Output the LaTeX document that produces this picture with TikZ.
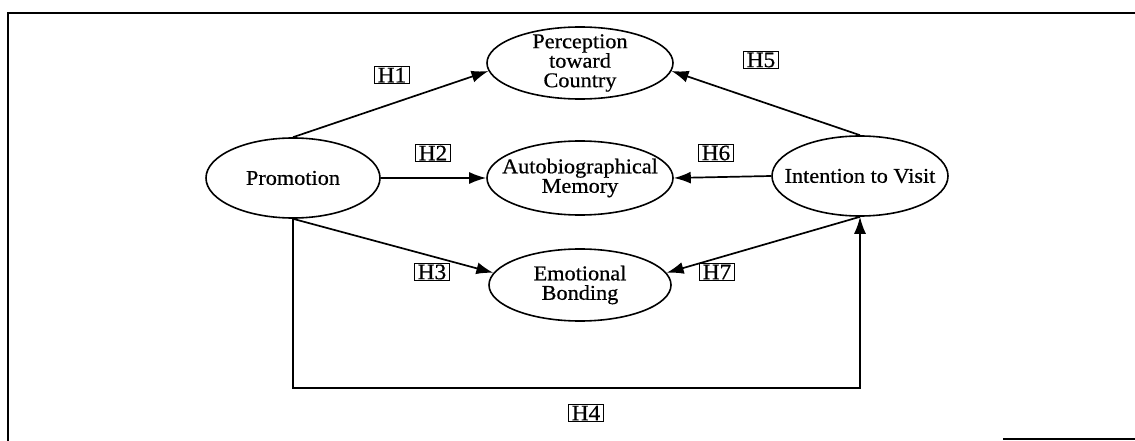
\documentclass[tikz,border=0pt]{standalone}
\usepackage{fontspec}
\setmainfont{Liberation Serif}[FakeStretch=1.06,FakeBold=0.6]
\usetikzlibrary{shapes.geometric,arrows.meta}
\begin{document}
\begin{tikzpicture}[x=1pt,y=-1pt,
  ell/.style={draw,ellipse,line width=1.6pt,inner sep=0pt},
  etext/.style={align=center,font=\fontsize{21}{19.5}\selectfont},
  hyp/.style={draw,line width=1.1pt,inner xsep=3.5pt,inner ysep=1.5pt,font=\fontsize{22}{22}\selectfont},
  conn/.style={line width=1.7pt,-{Latex[length=17pt,width=12pt]}}]
\useasboundingbox (0,0) rectangle (1135,441);
% frame
\draw[line width=1.8pt] (1135,13) -- (8,13) -- (8,441);
\draw[line width=1.8pt] (1003,439) -- (1135,439);
% constructs
\node[ell,minimum width=186pt,minimum height=72pt,label={[etext]center:Perception\\toward\\Country}] (P) at (580,63) {};
\node[ell,minimum width=174pt,minimum height=80pt,label={[etext]center:Promotion}] (Pr) at (293,178) {};
\node[ell,minimum width=186pt,minimum height=74pt,label={[etext]center:Autobiographical\\Memory}] (A) at (580,178) {};
\node[ell,minimum width=176pt,minimum height=80pt,label={[etext]center:Intention to Visit}] (I) at (860,176) {};
\node[ell,minimum width=182pt,minimum height=72pt,label={[etext]center:Emotional\\Bonding}] (E) at (580,285) {};
% corners of the H4 path
\coordinate (c1) at (Pr.south |- 0,388);
\coordinate (c2) at (I.south |- 0,388);
% connectors
\draw[conn] (Pr.north) -- (P.185);
\draw[conn] (I.north) -- (P.355);
\draw[conn] (Pr.east) -- (A.west);
\draw[conn] (I.west) -- (A.east);
\draw[conn] (Pr.south) -- (E.172);
\draw[conn] (I.south) -- (E.8);
\draw[conn] (Pr.south) -- (c1) -- (c2) -- (I.south);
% hypothesis labels
\node[hyp] (h1) at (392,75) {H1};
\node[hyp] (h2) at (433,153) {H2};
\node[hyp] (h3) at (432,272) {H3};
\node[hyp] (h4) at (586,413) {H4};
\node[hyp] (h5) at (761,60) {H5};
\node[hyp] (h6) at (716,153) {H6};
\node[hyp] (h7) at (717,272) {H7};
\end{tikzpicture}
\end{document}
